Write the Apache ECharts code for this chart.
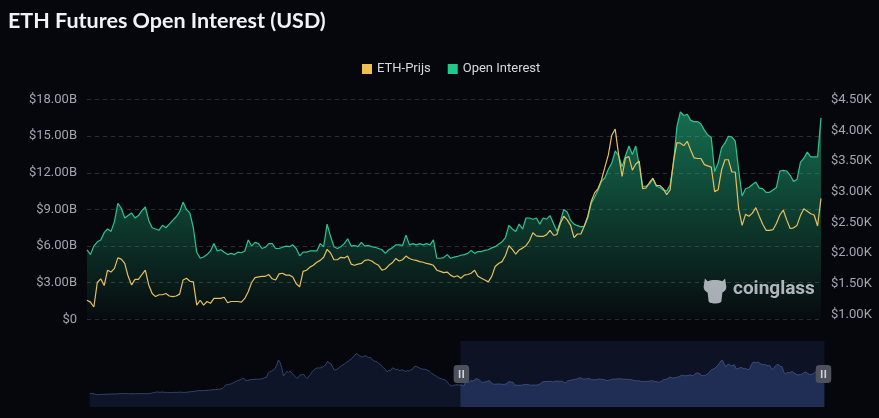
<!DOCTYPE html>
<html><head><meta charset="utf-8">
<script src="https://cdn.jsdelivr.net/npm/echarts@6/dist/echarts.min.js"></script>
<style>html,body{margin:0;padding:0;background:#06070c;}#c{width:879px;height:418px;}</style>
</head><body><div id="c"></div>
<script>
// ---- data ----
const startDate = '2020-02-16';   // first category
const stepDays = 4;               // spacing of categories
// ETH price (K USD) before the zoom window (only visible in slider)
const priceBeforeWindow = [
0.27,0.26,0.24,0.20,0.13,0.14,0.14,0.15,0.17,0.17,
0.19,0.17,0.19,0.21,0.21,0.20,0.21,0.23,0.24,0.24,
0.24,0.23,0.24,0.24,0.23,0.24,0.23,0.23,0.23,0.24,
0.24,0.24,0.23,0.24,0.24,0.24,0.27,0.32,0.38,0.40,
0.43,0.39,0.40,0.42,0.38,0.39,0.36,0.37,0.35,0.37,
0.39,0.38,0.39,0.41,0.40,0.39,0.38,0.40,0.42,0.46,
0.47,0.49,0.50,0.56,0.58,0.56,0.58,0.60,0.59,0.62,
0.64,0.63,0.68,0.70,0.69,0.72,0.74,0.76,0.80,0.98,
1.22,1.25,1.30,1.33,1.40,1.52,1.62,1.70,1.78,1.84,
1.98,1.95,1.68,1.72,1.80,1.84,1.83,1.86,1.87,1.86,
1.88,1.92,1.95,2.05,2.10,2.55,2.75,2.80,2.90,3.05,
3.45,4.05,3.80,3.20,2.25,2.50,2.75,2.62,2.80,2.55,
2.35,2.15,1.95,2.20,2.35,2.40,2.42,2.10,1.95,2.25,
2.45,2.75,2.95,3.10,3.15,3.15,3.17,3.25,3.35,3.60,
3.90,3.70,3.62,3.20,2.90,2.98,3.05,3.25,3.40,3.50,
3.62,3.80,3.90,4.05,4.20,4.40,4.60,4.80,4.60,4.50,
4.40,4.42,4.55,4.45,4.30,4.35,4.15,3.95,3.90,3.85,
3.65,3.55,3.30,3.15,2.95,2.70,2.90,2.85,3.15,3.10,
2.95,3.00,2.85,2.90,2.95,2.80,2.75,2.85,2.80,2.95,
3.05,3.30,3.35,3.25,3.15,3.05,3.00,3.00,2.95,2.85,
2.75,2.55,2.45,2.30,2.20,2.05,1.98,1.90,1.85,1.78,
1.65,1.40,1.15,1.10,1.18,1.22,1.25,1.20];
// ETH price (K USD) inside the zoom window
const priceInWindow = [
1.23,1.20,1.12,1.52,1.58,1.47,1.72,1.69,1.75,1.92,
1.90,1.83,1.62,1.48,1.57,1.57,1.65,1.72,1.48,1.34,
1.29,1.32,1.32,1.34,1.30,1.29,1.30,1.33,1.56,1.59,
1.54,1.53,1.15,1.23,1.15,1.21,1.18,1.26,1.26,1.26,
1.28,1.19,1.21,1.21,1.21,1.20,1.26,1.37,1.52,1.60,
1.61,1.62,1.62,1.65,1.58,1.56,1.66,1.67,1.64,1.64,
1.61,1.50,1.45,1.70,1.72,1.77,1.80,1.85,1.88,1.93,
2.06,2.00,1.89,1.89,1.93,1.92,1.95,1.82,1.80,1.82,
1.83,1.88,1.89,1.87,1.83,1.80,1.72,1.74,1.80,1.84,
1.91,1.87,1.89,1.95,1.91,1.89,1.88,1.86,1.85,1.83,
1.82,1.80,1.72,1.70,1.68,1.69,1.64,1.61,1.63,1.59,
1.64,1.65,1.67,1.72,1.62,1.59,1.56,1.53,1.62,1.78,
1.83,1.86,1.96,2.12,2.06,1.98,2.05,2.08,2.12,2.20,
2.33,2.28,2.27,2.27,2.30,2.37,2.29,2.30,2.48,2.60,
2.54,2.45,2.25,2.31,2.31,2.44,2.60,2.84,2.98,3.05,
3.19,3.40,3.60,3.92,4.02,3.60,3.25,3.55,3.57,3.35,
3.45,3.50,3.05,3.06,3.15,3.22,3.10,3.10,3.05,2.95,
3.03,3.50,3.80,3.79,3.75,3.82,3.68,3.55,3.54,3.54,
3.44,3.42,3.40,3.00,3.03,3.35,3.52,3.52,3.32,3.32,
2.72,2.45,2.63,2.60,2.65,2.74,2.60,2.47,2.37,2.37,
2.38,2.48,2.62,2.70,2.54,2.40,2.41,2.45,2.61,2.72,
2.68,2.64,2.62,2.44,2.89];
// Open interest (B USD) inside the zoom window
const openInterest = [
5.7,5.3,6.0,6.35,6.5,7.1,7.4,7.2,8.0,9.5,
9.1,8.3,8.5,8.7,8.3,8.5,8.9,9.2,8.1,7.5,
7.4,7.3,7.7,7.5,7.8,8.1,8.4,8.8,9.6,9.0,
8.7,7.5,5.5,5.0,5.1,5.3,5.6,6.2,5.6,5.7,
5.5,5.3,5.4,5.3,5.5,5.45,5.6,6.5,6.0,6.3,
6.2,5.8,5.9,6.2,6.2,5.8,5.8,5.9,6.0,5.95,
6.1,5.8,5.2,5.5,5.5,5.6,5.6,5.6,6.2,5.95,
7.8,6.8,5.95,5.8,5.95,6.2,6.6,6.0,6.05,5.95,
6.3,6.0,6.05,5.95,5.9,5.8,5.7,5.4,5.7,5.85,
6.1,6.1,6.05,6.9,6.1,6.2,6.1,6.2,6.1,6.2,
6.1,6.5,5.0,5.0,5.05,5.3,5.0,5.1,5.15,5.25,
5.3,5.4,5.65,5.4,5.55,5.55,5.65,5.7,5.85,5.95,
6.15,6.35,6.7,7.7,7.4,7.2,7.8,7.4,8.3,8.3,
8.2,8.3,7.8,8.3,8.2,8.5,7.85,7.2,8.0,9.0,
8.8,8.1,7.8,7.67,7.57,7.64,8.3,9.5,10.0,10.6,
11.3,11.6,12.3,12.8,13.8,13.4,12.5,13.4,14.2,13.5,
14.2,12.6,10.9,10.9,11.1,11.5,10.9,10.8,10.6,10.5,
11.0,12.8,15.8,17.0,16.7,16.8,16.3,16.2,16.2,16.0,
15.5,15.1,14.9,12.1,12.8,14.05,14.45,15.0,14.95,14.6,
12.2,10.1,10.7,10.8,11.05,11.25,10.75,10.7,10.4,10.4,
10.6,10.8,12.15,12.2,12.15,11.8,11.3,11.45,12.85,13.2,
13.7,13.3,13.3,13.3,16.5];
const tickLabels = ['2022-09-09','2022-12-21','2023-04-02','2023-07-13','2023-10-23','2024-02-02','2024-05-14','2024-08-24'];
const seriesNames = ['ETH-Prijs', 'Open Interest'];

// ---- build ----
const DAY = 86400000;
const t0 = Date.parse(startDate + 'T00:00:00Z');
const ethPrice = priceBeforeWindow.concat(priceInWindow);
const n = ethPrice.length;
const categories = [];
for (let i = 0; i < n; i++) categories.push(new Date(t0 + i * stepDays * DAY).toISOString().slice(0, 10));
const windowStart = priceBeforeWindow.length;
const oiData = new Array(windowStart).fill(null).concat(openInterest);
const labelAt = {};
tickLabels.forEach(function (d) {
  const idx = Math.round((Date.parse(d + 'T00:00:00Z') - t0) / (stepDays * DAY));
  labelAt[idx] = d;
});

function svgUrl(svg) { return 'data:image/svg+xml;charset=utf-8,' + encodeURIComponent(svg); }
const handleSvg = '<svg xmlns="http://www.w3.org/2000/svg" width="16" height="18" viewBox="0 0 16 18"><rect width="16" height="18" rx="4" fill="#4d515c"/><rect x="5.4" y="5" width="1.6" height="8" fill="#d2d4dc"/><rect x="9" y="5" width="1.6" height="8" fill="#d2d4dc"/></svg>';
const logoSvg = '<svg xmlns="http://www.w3.org/2000/svg" width="24" height="28" viewBox="-1 -1 26 29"><path d="M4,3 C8,1 16,1 20,3 L23,0 L24,7 C25,11 23,14 20,15 L19,24 C19,26 16,27 12,27 C8,27 5,26 5,24 L4,15 C1,14 -1,11 0,7 L1,0 Z" fill="#c6cad2" fill-opacity="0.85"/></svg>';

const axisFont = 'Roboto, "DejaVu Sans", sans-serif';
const chart = echarts.init(document.getElementById('c'), null, { renderer: 'canvas' });
chart.setOption({
  backgroundColor: '#06070c',
  animation: false,
  title: {
    text: 'ETH Futures Open Interest (USD)', left: 3, top: 5,
    textStyle: { color: '#f1f2f5', fontSize: 21.5, fontWeight: 'bold', fontFamily: 'Lato, "Open Sans", sans-serif' }
  },
  legend: {
    data: seriesNames, left: 357, top: 57.5, itemWidth: 10, itemHeight: 10, itemGap: 17, icon: 'rect',
    textStyle: { color: '#d7d9df', fontSize: 13, fontFamily: axisFont }
  },
  grid: { left: 87, right: 58, top: 99.6, bottom: 98.7 },
  xAxis: {
    type: 'category', data: categories, boundaryGap: false,
    axisLine: { show: false }, axisTick: { show: false },
    axisLabel: {
      color: '#a3a6af', fontSize: 13, fontFamily: axisFont, margin: 9,
      interval: function (idx) { return labelAt[idx] !== undefined; },
      formatter: function (v, idx) { return labelAt[idx] || ''; }
    },
    splitLine: { show: false }
  },
  yAxis: [
    {
      type: 'value', position: 'left', min: 0, max: 18, interval: 3,
      axisLine: { show: false }, axisTick: { show: false },
      axisLabel: { color: '#a3a6af', fontSize: 13, fontFamily: axisFont, margin: 10,
        formatter: function (v) { return v === 0 ? '$0' : '$' + v.toFixed(2) + 'B'; } },
      splitLine: { show: true, lineStyle: { color: '#2a2d36', type: [4, 4], width: 1 } }
    },
    {
      type: 'value', position: 'right', min: 0.92, max: 4.5, splitNumber: 7,
      axisLine: { show: false }, axisTick: { show: false },
      axisLabel: { color: '#a3a6af', fontSize: 13, fontFamily: axisFont, margin: 10, showMinLabel: false,
        formatter: function (v) { return Math.abs(v * 2 - Math.round(v * 2)) < 1e-6 ? '$' + v.toFixed(2) + 'K' : ''; } },
      splitLine: { show: false }
    }
  ],
  dataZoom: [{
    type: 'slider', xAxisIndex: 0, startValue: windowStart, endValue: n - 1,
    left: 87, right: 57, top: 341, height: 66,
    backgroundColor: 'rgba(0,0,0,0)', borderColor: 'rgba(0,0,0,0)',
    fillerColor: 'rgba(30,42,82,0.35)',
    dataBackground: { lineStyle: { color: '#33446c', width: 1, opacity: 1 }, areaStyle: { color: '#0e1529', opacity: 1 } },
    selectedDataBackground: { lineStyle: { color: '#4b5f94', width: 1, opacity: 1 }, areaStyle: { color: '#223056', opacity: 1 } },
    handleIcon: 'image://' + svgUrl(handleSvg),
    handleSize: 18,
    moveHandleSize: 0, moveHandleStyle: { opacity: 0 },
    showDetail: false, brushSelect: false
  }],
  graphic: [
    { type: 'image', left: 703, top: 277, style: { image: svgUrl(logoSvg), width: 24, height: 28 }, z: 100 },
    { type: 'text', left: 733, top: 280, style: { text: 'coinglass', fill: 'rgba(200,204,212,0.88)',
      font: 'bold 19px Roboto, sans-serif' }, z: 100 }
  ],
  series: [
    {
      name: seriesNames[0], type: 'line', yAxisIndex: 1, data: ethPrice,
      showSymbol: false, symbol: 'none', z: 3,
      lineStyle: { color: '#e6bf5e', width: 1.2 }, itemStyle: { color: '#efc04f' }
    },
    {
      name: seriesNames[1], type: 'line', yAxisIndex: 0, data: oiData,
      showSymbol: false, symbol: 'none', z: 2,
      lineStyle: { color: '#2cc590', width: 1.2 }, itemStyle: { color: '#1fc98b' },
      areaStyle: { color: new echarts.graphic.LinearGradient(0, 0, 0, 1, [
        { offset: 0, color: 'rgba(34,190,132,0.80)' },
        { offset: 1, color: 'rgba(34,190,132,0.03)' }
      ]) }
    }
  ]
});
</script>
</body></html>
